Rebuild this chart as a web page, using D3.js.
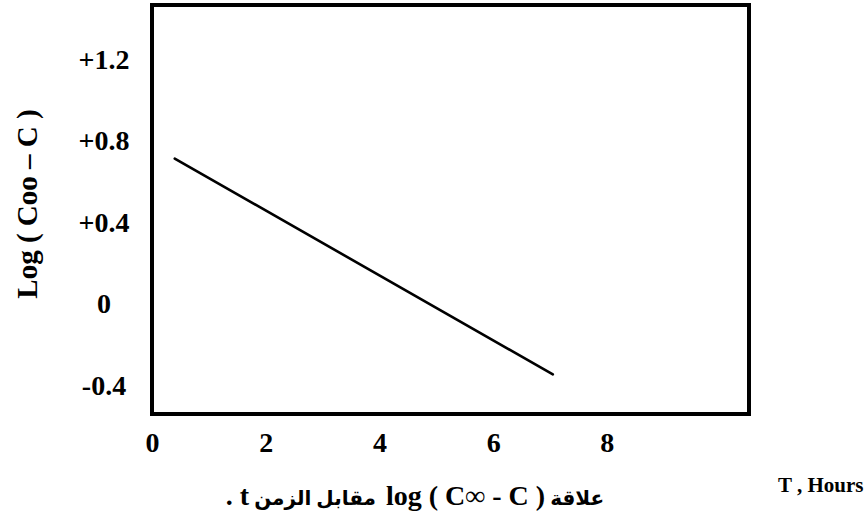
<!DOCTYPE html>
<html>
<head>
<meta charset="utf-8">
<script src="https://cdn.jsdelivr.net/npm/d3@7"></script>
<style>
  html, body { margin: 0; padding: 0; background: #fff; }
  svg { display: block; }
  text { font-family: "Liberation Serif", "Times New Roman", "DejaVu Sans", serif; font-weight: bold; fill: #000; }
</style>
</head>
<body>
<svg id="chart" width="868" height="524"></svg>
<script>
// Straight-line fit of log(C∞ - C) against time (hours)
const lineT = [0.4, 7.05];
const lineLogC = [0.71, -0.35];

const xTickValues = [0, 2, 4, 6, 8];
const xTickLabels = ["0", "2", "4", "6", "8"];
const yTickValues = [1.2, 0.8, 0.4, 0, -0.4];
const yTickLabels = ["+1.2", "+0.8", "+0.4", "0", "-0.4"];

const yTitle = "Log  ( Coo – C )";
const xUnit = "T , Hours";
// Caption pieces in logical (right-to-left) order; "lat" pieces are set larger
const captionParts = [
  { text: "علاقة\u00A0", lat: false },
  { text: "\u2066log ( C∞ - C )\u2069", lat: true },
  { text: "\u00A0\u00A0مقابل الزمن\u00A0", lat: false },
  { text: "t .", lat: true }
];

const svg = d3.select("#chart");

const x = d3.scaleLinear().domain([0, 10.5]).range([152, 749]);
const y = d3.scaleLinear().domain([-0.545, 1.465]).range([414, 5]);

// Plot frame
svg.append("rect")
  .attr("x", x(0)).attr("y", y(1.465))
  .attr("width", x(10.5) - x(0))
  .attr("height", y(-0.545) - y(1.465))
  .attr("fill", "none").attr("stroke", "#000").attr("stroke-width", 4);

// X tick labels
const xAxis = d3.axisBottom(x)
  .tickValues(xTickValues)
  .tickSize(0)
  .tickPadding(0)
  .tickFormat((d, i) => xTickLabels[i]);
const gx = svg.append("g").attr("transform", `translate(0, 452)`).call(xAxis);
gx.select(".domain").remove();
gx.selectAll("text")
  .attr("dy", 0).attr("y", 0)
  .style("font-size", "28px")
  .style("font-family", "'Liberation Serif', serif")
  .style("font-weight", "bold");

// Y tick labels, centred in their column
const yAxis = d3.axisLeft(y)
  .tickValues(yTickValues)
  .tickSize(0)
  .tickPadding(0)
  .tickFormat((d, i) => yTickLabels[i]);
const gy = svg.append("g").attr("transform", `translate(104, 0)`).call(yAxis);
gy.select(".domain").remove();
gy.selectAll("text")
  .attr("x", 0)
  .attr("dy", "0.34em")
  .attr("text-anchor", "middle")
  .style("font-size", "28px")
  .style("font-family", "'Liberation Serif', serif")
  .style("font-weight", "bold");

// Fitted line
const pts = lineT.map((t, i) => [t, lineLogC[i]]);
svg.append("path")
  .datum(pts)
  .attr("d", d3.line().x(d => x(d[0])).y(d => y(d[1])))
  .attr("fill", "none")
  .attr("stroke", "#000")
  .attr("stroke-width", 2.6)
  .attr("stroke-linecap", "round");

// Y axis title
svg.append("text")
  .attr("transform", "translate(37, 204) rotate(-90)")
  .attr("text-anchor", "middle")
  .style("font-size", "29px")
  .text(yTitle);

// Time unit label
svg.append("text")
  .attr("x", 778).attr("y", 492)
  .style("font-size", "21px")
  .text(xUnit);

// Arabic caption
const cap = svg.append("text")
  .attr("x", 415).attr("y", 505)
  .attr("text-anchor", "middle")
  .attr("direction", "rtl")
  .style("unicode-bidi", "embed");
cap.selectAll("tspan")
  .data(captionParts)
  .join("tspan")
  .style("font-size", d => d.lat ? "28px" : "20px")
  .text(d => d.text);
</script>
</body>
</html>
